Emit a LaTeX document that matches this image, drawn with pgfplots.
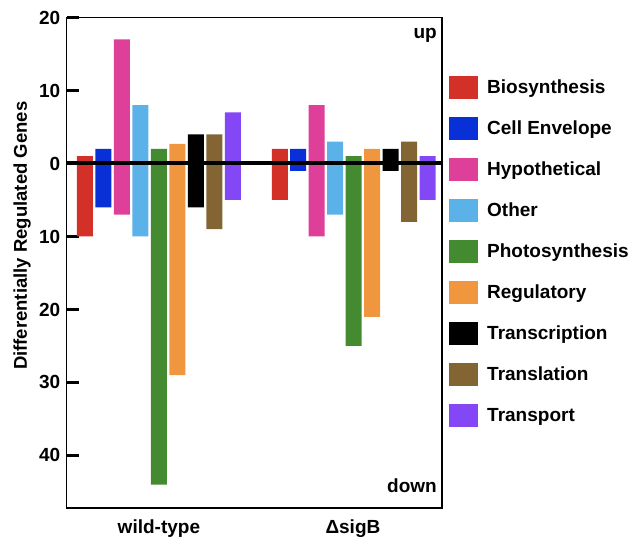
\documentclass[border=0pt]{standalone}
\usepackage{pgfplots}
\pgfplotsset{compat=1.18}
\usepackage{fontspec}
\setmainfont{Liberation Sans}

\definecolor{bio}{RGB}{211,49,39}
\definecolor{env}{RGB}{8,48,214}
\definecolor{hyp}{RGB}{222,63,152}
\definecolor{oth}{RGB}{91,178,232}
\definecolor{pho}{RGB}{68,138,48}
\definecolor{reg}{RGB}{240,150,62}
\definecolor{trc}{RGB}{0,0,0}
\definecolor{trl}{RGB}{130,101,50}
\definecolor{trp}{RGB}{131,71,245}

\begin{document}
\begin{tikzpicture}
\begin{axis}[name=ax,
  scale only axis, width=375.3pt, height=490.5pt,
  xmin=0.01, xmax=20.32, ymin=-47.2, ymax=20,
  axis line style={line width=1.5pt},
  font=\fontsize{19}{22}\selectfont\bfseries,
  /pgf/number format/assume math mode=true,
  ytick={-40,-30,-20,-10,0,10,20},
  yticklabels={40,30,20,10,0,10,20},
  ytick pos=left, tick align=inside,
  major tick length=12pt,
  every tick/.style={line width=3pt, black},
  yticklabel style={xshift=-3pt},
  xtick={5,15.5},
  xticklabels={wild-type,ΔsigB},
  xtick style={draw=none},
  xticklabel style={yshift=-8pt},
  ylabel={Differentially Regulated Genes},
  ylabel style={at={(axis description cs:-0.119,0.555)}, anchor=center,
    font=\fontsize{18.5}{22}\selectfont\bfseries},
  legend style={at={(axis description cs:1,1)}, anchor=north west,
    xshift=7pt, yshift=-58.5pt, draw=none, fill=none, inner sep=0pt,
    row sep=18pt, column sep=9pt,
    nodes={inner sep=0pt}, font=\fontsize{19}{22}\selectfont\bfseries},
  legend cell align=left,
  legend image code/.code={\fill[#1] (0pt,-11.5pt) rectangle (29pt,11.5pt);},
  every axis plot/.append style={ybar, bar width=0.866, draw=none},
]
% category: wild-type up, down; dsigB up, down
\addplot[fill=bio] coordinates {(1,1) (1,-10) (11.54,2) (11.54,-5)};
\addlegendentry{Biosynthesis}
\addplot[fill=env] coordinates {(2,2) (2,-6) (12.54,2) (12.54,-1)};
\addlegendentry{Cell Envelope}
\addplot[fill=hyp] coordinates {(3,17) (3,-7) (13.54,8) (13.54,-10)};
\addlegendentry{Hypothetical}
\addplot[fill=oth] coordinates {(4,8) (4,-10) (14.54,3) (14.54,-7)};
\addlegendentry{Other}
\addplot[fill=pho] coordinates {(5,2) (5,-44) (15.54,1) (15.54,-25)};
\addlegendentry{Photosynthesis}
\addplot[fill=reg] coordinates {(6,2.7) (6,-29) (16.54,2) (16.54,-21)};
\addlegendentry{Regulatory}
\addplot[fill=trc] coordinates {(7,4) (7,-6) (17.54,2) (17.54,-1)};
\addlegendentry{Transcription}
\addplot[fill=trl] coordinates {(8,4) (8,-9) (18.54,3) (18.54,-8)};
\addlegendentry{Translation}
\addplot[fill=trp] coordinates {(9,7) (9,-5) (19.54,1) (19.54,-5)};
\addlegendentry{Transport}
\draw[line width=4pt] (axis cs:0.01,0) -- (axis cs:20.32,0);
\node[anchor=east, inner sep=0pt] at ([xshift=-5pt, yshift=-17.5pt]rel axis cs:1,1) {up};
\node[anchor=east, inner sep=0pt] at ([xshift=-5pt, yshift=22pt]rel axis cs:1,0) {down};
\end{axis}
\pgfresetboundingbox
\path ([shift={(-66.7pt,-32pt)}]ax.south west) rectangle ([shift={(194pt,17.5pt)}]ax.north east);
\end{tikzpicture}
\end{document}
